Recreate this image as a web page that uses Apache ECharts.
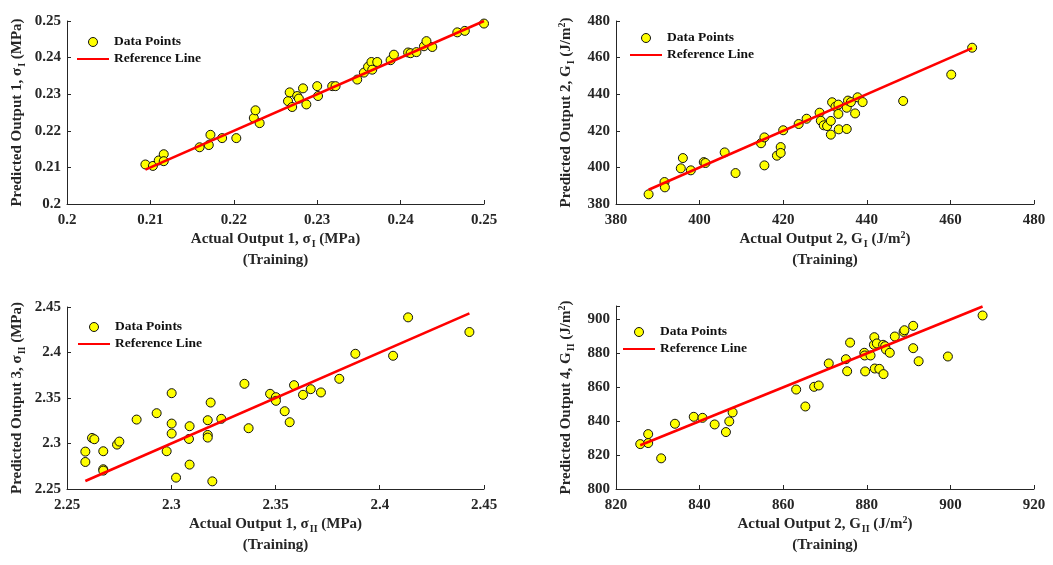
<!DOCTYPE html>
<html><head><meta charset="utf-8">
<script src="https://cdn.jsdelivr.net/npm/echarts@6/dist/echarts.min.js"></script>
<style>html,body{margin:0;padding:0;background:#fff}#c{width:1053px;height:565px}</style>
</head><body><div id="c"></div>
<script>
// Panel 1: sigma_I (MPa)
const act1 = [0.2094,0.2103,0.2110,0.2116,0.2116,0.2159,0.2170,0.2172,0.2186,0.2203,0.2224,0.2226,0.2231,0.2265,0.2267,0.2270,0.2276,0.2278,0.2283,0.2287,0.2300,0.2301,0.2318,0.2322,0.2348,0.2356,0.2361,0.2365,0.2366,0.2372,0.2388,0.2392,0.2409,0.2412,0.2419,0.2428,0.2431,0.2438,0.2468,0.2477,0.2500];
const pred1 = [0.2108,0.2104,0.2119,0.2136,0.2117,0.2155,0.2161,0.2189,0.2180,0.2180,0.2235,0.2256,0.2221,0.2281,0.2305,0.2265,0.2295,0.2288,0.2316,0.2272,0.2322,0.2295,0.2322,0.2322,0.2340,0.2359,0.2375,0.2388,0.2367,0.2388,0.2393,0.2408,0.2414,0.2412,0.2415,0.2431,0.2445,0.2429,0.2469,0.2473,0.2493];
// Panel 2: G_I (J/m^2)
const act2 = [387.8,391.6,391.7,395.5,396.0,397.9,401.0,401.4,406.0,408.6,414.7,415.5,415.5,418.5,419.4,419.4,420.0,423.7,425.6,428.7,429.0,429.7,430.5,431.4,431.4,431.7,432.5,433.2,433.2,433.3,435.2,435.2,435.5,436.2,437.2,437.8,439.0,448.7,460.2,465.2];
const pred2 = [385.3,392.0,389.1,399.5,405.1,398.4,402.9,402.4,408.2,396.9,413.2,416.4,401.1,406.4,411.1,407.9,420.3,423.7,426.6,429.9,425.5,423.0,422.6,425.4,417.9,435.6,433.2,434.3,429.2,420.8,421.0,432.6,436.5,435.7,429.5,438.3,435.7,436.3,450.7,465.4];
// Panel 3: sigma_II (MPa)
const act3 = [2.2588,2.2588,2.2620,2.2631,2.2674,2.2674,2.2674,2.2740,2.2751,2.2834,2.2930,2.2978,2.3002,2.3002,2.3002,2.3023,2.3085,2.3088,2.3088,2.3175,2.3175,2.3175,2.3189,2.3197,2.3240,2.3351,2.3371,2.3474,2.3502,2.3502,2.3544,2.3568,2.3589,2.3632,2.3669,2.3718,2.3806,2.3883,2.4064,2.4136,2.4430];
const pred3 = [2.2911,2.2797,2.3061,2.3047,2.2915,2.2717,2.2702,2.2988,2.3021,2.3263,2.3333,2.2915,2.3553,2.3219,2.3109,2.2625,2.3050,2.3190,2.2768,2.3256,2.3094,2.3065,2.3450,2.2584,2.3271,2.3656,2.3168,2.3546,2.3509,2.3469,2.3355,2.3234,2.3641,2.3535,2.3597,2.3561,2.3711,2.3986,2.3964,2.4386,2.4225];
// Panel 4: G_II (J/m^2)
const act4 = [825.8,827.7,827.7,830.8,834.1,838.6,840.7,843.6,846.3,847.1,847.9,863.1,865.3,867.4,868.5,870.9,875.0,875.3,876.0,879.4,879.5,879.6,880.9,881.7,881.8,881.9,882.4,883.0,883.9,884.0,884.4,884.6,885.5,886.7,888.8,889.0,891.1,891.1,892.4,899.4,907.7];
const pred4 = [826.5,832.4,827.1,818.1,838.5,842.6,842.0,838.1,833.6,839.9,845.2,858.7,848.7,860.3,861.1,874.1,876.6,869.5,886.4,880.4,878.8,869.4,878.8,885.1,889.6,871.1,885.9,870.9,885.1,867.8,884.3,882.3,880.4,890.0,892.7,893.7,896.3,883.1,875.4,878.2,902.4];

const legendNames = ['Data Points','Reference Line'];
const xNames = [
  'Actual Output 1, σ{sub|I} (MPa)\n(Training)',
  'Actual Output 2, G{sub|I} (J/m{sup|2})\n(Training)',
  'Actual Output 1, σ{sub|II} (MPa)\n(Training)',
  'Actual Output 2, G{sub|II} (J/m{sup|2})\n(Training)'
];
const yNames = [
  'Predicted Output 1, σ{sub|I} (MPa)',
  'Predicted Output 2, G{sub|I} (J/m{sup|2})',
  'Predicted Output 3, σ{sub|II} (MPa)',
  'Predicted Output 4, G{sub|II} (J/m{sup|2})'
];
const xRanges = [[0.2,0.25,0.01],[380,480,20],[2.25,2.45,0.05],[820,920,20]];
const yRanges = [[0.2,0.25,0.01],[380,480,20],[2.25,2.45,0.05],[800,908,20]];

const acts = [act1,act2,act3,act4];
const preds = [pred1,pred2,pred3,pred4];

const FONT = 'Liberation Serif';
const INK = '#262626';
const grids = [
  {left:67, top:21, width:417, height:183},
  {left:616, top:21, width:418, height:183},
  {left:67, top:307, width:417, height:182},
  {left:616, top:306, width:418, height:183}
];
const legendPos = [[76,35],[629,31],[77,320],[622,325]];

const rich = {
  sub:{fontFamily:FONT,fontWeight:'bold',fontSize:10,color:INK,padding:[9,0,0,1]},
  sup:{fontFamily:FONT,fontWeight:'bold',fontSize:10,color:INK,padding:[0,0,9,0]}
};
function nameStyle(){
  return {fontFamily:FONT,fontWeight:'bold',fontSize:15,color:INK,lineHeight:21,rich:rich};
}
function axisCommon(r){
  return {
    type:'value', min:r[0], max:r[1], interval:r[2],
    axisLine:{show:true,onZero:false,lineStyle:{color:INK,width:1}},
    axisTick:{show:true,inside:true,length:4,lineStyle:{color:INK}},
    splitLine:{show:false},
    axisLabel:{fontFamily:FONT,fontWeight:'bold',fontSize:15,color:INK,
      formatter:function(v){ const k=Math.round((v-r[0])/r[2]); return Math.abs(r[0]+k*r[2]-v)<r[2]*1e-6 ? String(+v.toFixed(4)) : ''; }}
  };
}

const xAxis=[], yAxis=[], series=[], legend=[];
for(let i=0;i<4;i++){
  const xa = axisCommon(xRanges[i]);
  xa.gridIndex=i; xa.name=xNames[i]; xa.nameLocation='middle'; xa.nameGap=25;
  xa.nameTextStyle=nameStyle(); xa.axisLabel.margin=9;
  xAxis.push(xa);
  const ya = axisCommon(yRanges[i]);
  ya.gridIndex=i; ya.name=yNames[i]; ya.nameLocation='middle'; ya.nameGap=39; ya.nameRotate=90;
  ya.nameTextStyle=nameStyle(); ya.axisLabel.margin=6;
  yAxis.push(ya);
  const a=acts[i], p=preds[i];
  const lo=Math.min(...a), hi=Math.max(...a);
  series.push({
    name:'Data Points', type:'scatter', xAxisIndex:i, yAxisIndex:i,
    data:a.map((v,k)=>[v,p[k]]), symbol:'circle', symbolSize:9,
    itemStyle:{color:'#ffff00',borderColor:'#111',borderWidth:1,opacity:1}, z:2
  });
  series.push({
    name:'Reference Line', type:'line', xAxisIndex:i, yAxisIndex:i,
    data:[[lo,lo],[hi,hi]], symbol:'none', showSymbol:false,
    itemStyle:{color:'#ff0000'},
    lineStyle:{color:'#ff0000',width:2.6}, z:3
  });
  legend.push({
    data:[
      {name:legendNames[0], icon:'circle', itemStyle:{color:'#ffff00',borderColor:'#111',borderWidth:1}},
      {name:legendNames[1], itemStyle:{color:'rgba(0,0,0,0)',borderWidth:0,opacity:0}}
    ],
    orient:'vertical', left:legendPos[i][0], top:legendPos[i][1],
    itemWidth:32, itemHeight:9, itemGap:3, padding:0, selectedMode:false,
    textStyle:{fontFamily:FONT,fontWeight:'bold',fontSize:13.5,color:'#111'}
  });
}

const chart = echarts.init(document.getElementById('c'), null, {renderer:'canvas'});
chart.setOption({
  animation:false, backgroundColor:'#fff',
  grid:grids, xAxis:xAxis, yAxis:yAxis, series:series, legend:legend
});
</script>
</body></html>
